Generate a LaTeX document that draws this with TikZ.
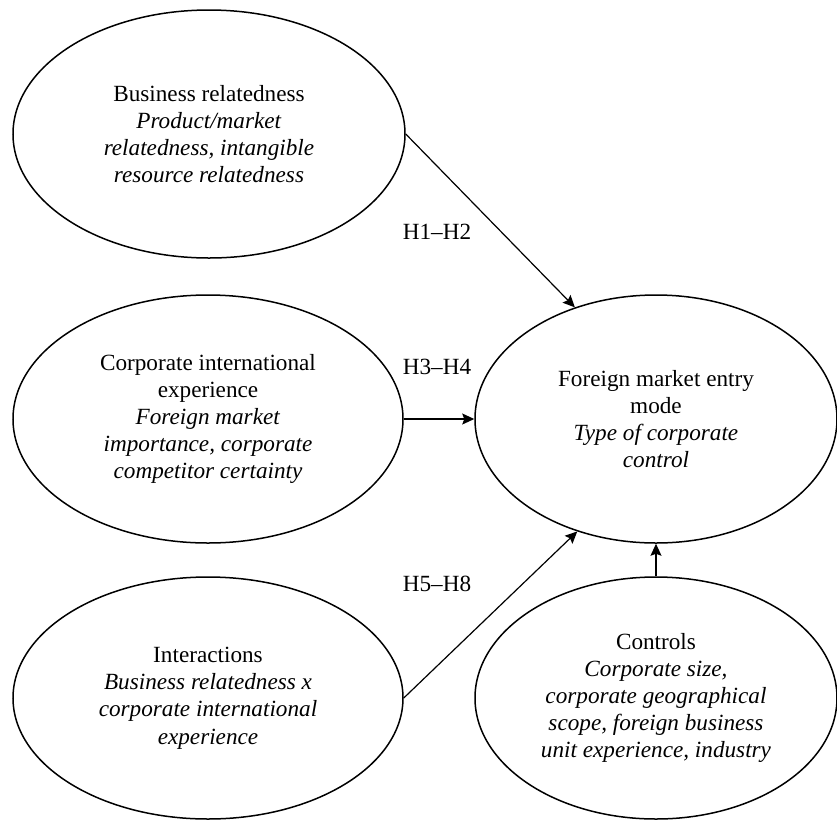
\documentclass[tikz,border=0pt]{standalone}
\usepackage{fontspec}
\setmainfont{Liberation Serif}
\usetikzlibrary{shapes.geometric,arrows.meta}

\begin{document}
\begin{tikzpicture}[x=0.5pt,y=-0.5pt,>={Stealth[length=6pt,width=5.5pt,inset=1pt]},
  font=\fontsize{11.6}{13.6}\selectfont,
  oval/.style={draw,ellipse,line width=0.75pt,inner sep=0pt,align=center},
  link/.style={->,line width=0.6pt},
  hyp/.style={inner sep=0pt}]
  \useasboundingbox (0,0) rectangle (837,821);
  \node[oval,minimum width=196pt,minimum height=124pt] (busrel) at (209,134)
    {Business relatedness\\ \textit{Product/market}\\ \textit{relatedness, intangible}\\ \textit{resource relatedness}};
  \node[oval,minimum width=195pt,minimum height=124pt] (intexp) at (208,419)
    {Corporate international\\ experience\\ \textit{Foreign market}\\ \textit{importance, corporate}\\ \textit{competitor certainty}};
  \node[oval,minimum width=195pt,minimum height=121pt] (interact) at (208,698)
    {Interactions\\ \textit{Business relatedness x}\\ \textit{corporate international}\\ \textit{experience}};
  \node[oval,minimum width=181pt,minimum height=124pt] (entry) at (656,419)
    {Foreign market entry\\ mode\\ \textit{Type of corporate}\\ \textit{control}};
  \node[oval,minimum width=181pt,minimum height=121pt] (controls) at (656,698)
    {Controls\\ \textit{Corporate size,}\\ \textit{corporate geographical}\\ \textit{scope, foreign business}\\ \textit{unit experience, industry}};
  % hypothesis labels
  \node[hyp] (h12) at (437,232) {H1--H2};
  \node[hyp] (h34) at (437,367) {H3--H4};
  \node[hyp] (h58) at (437,584) {H5--H8};
  \draw[link] (busrel.east) -- (entry.126);
  \draw[link] (intexp.east) -- (entry.west);
  \draw[link] (interact.east) -- (entry.235);
  \draw[link] (controls.north) -- (entry.south);
\end{tikzpicture}
\end{document}
